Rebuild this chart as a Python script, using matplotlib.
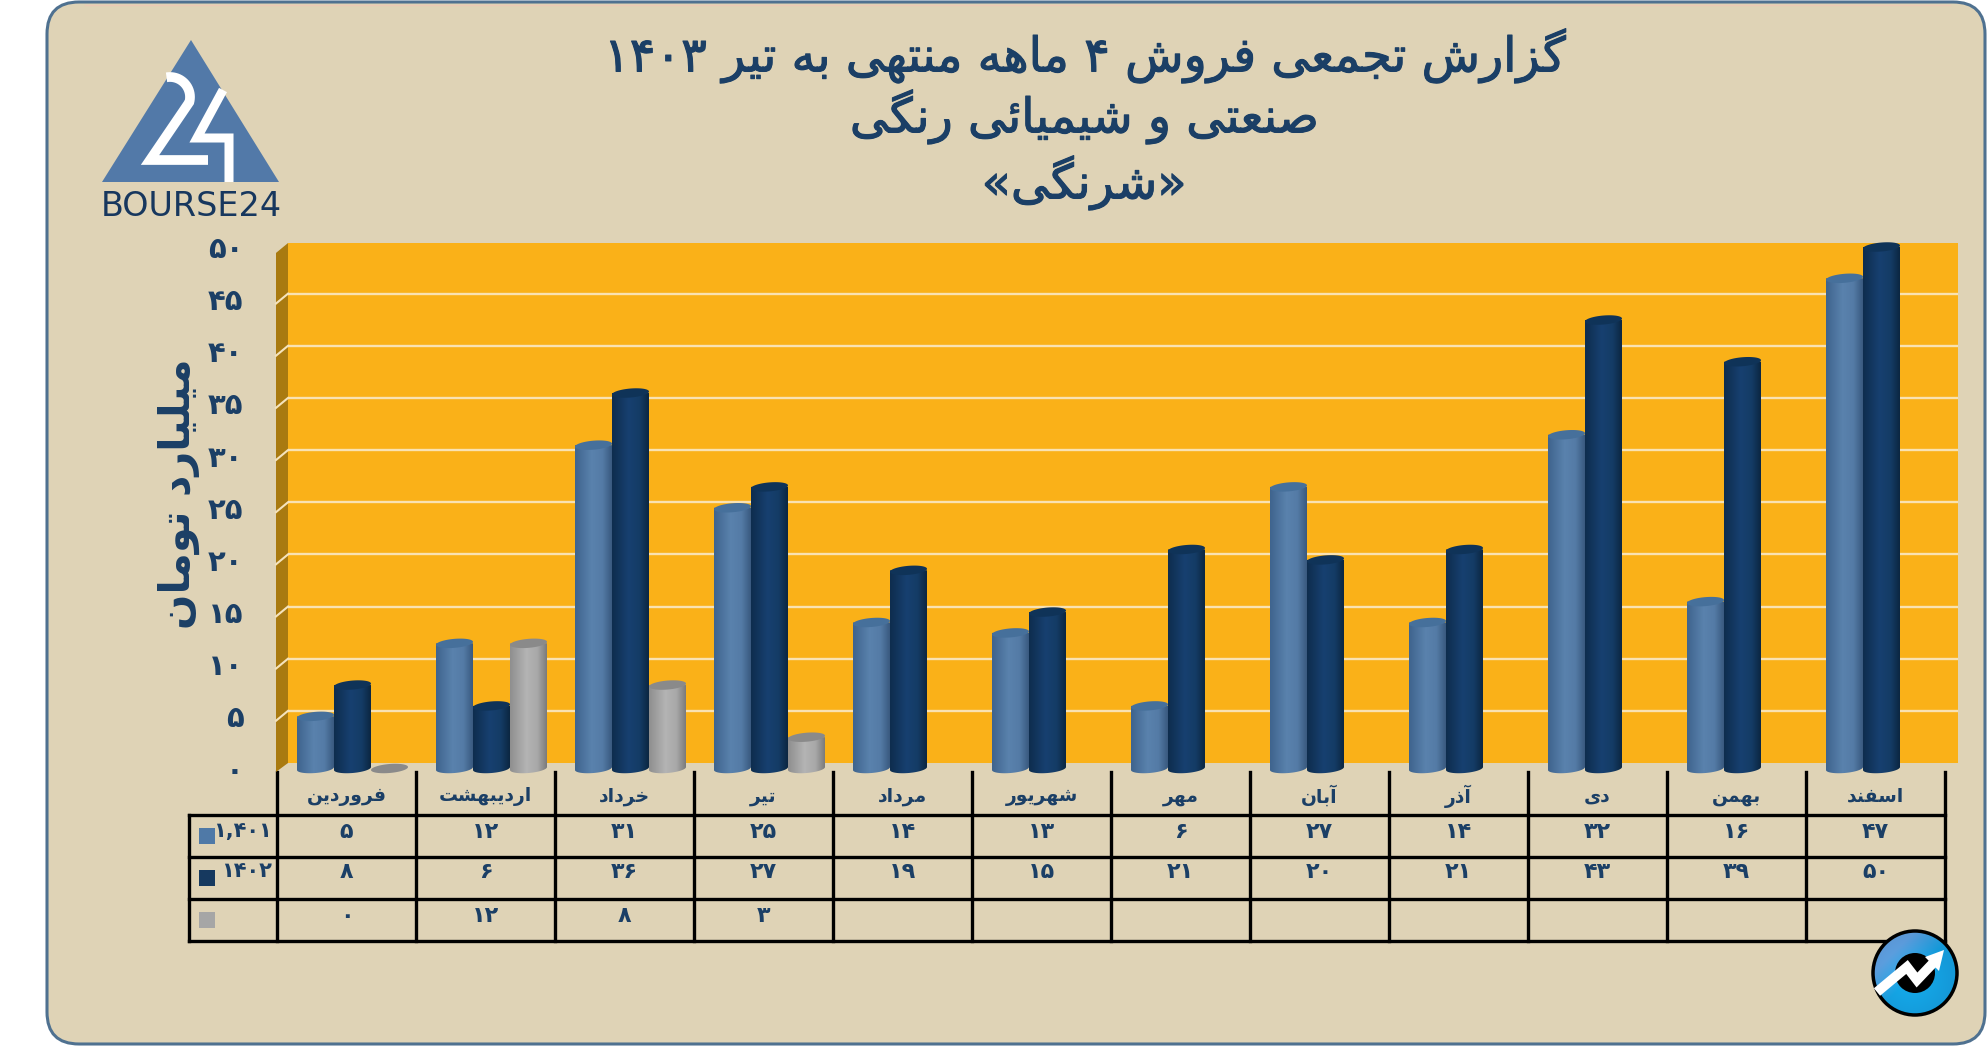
import re
import numpy as np
import matplotlib
matplotlib.use("Agg")
import matplotlib.pyplot as plt
import matplotlib.patheffects as pe
from matplotlib.path import Path
from matplotlib.patches import Circle, FancyBboxPatch, Polygon, Rectangle
from matplotlib.transforms import blended_transform_factory

plt.rcParams["font.family"] = ["DejaVu Sans"]

# Data
months = ["فروردین", "اردیبهشت", "خرداد", "تیر", "مرداد", "شهریور",
          "مهر", "آبان", "آذر", "دی", "بهمن", "اسفند"]
sales_1401 = [5, 12, 31, 25, 14, 13, 6, 27, 14, 32, 16, 47]
sales_1402 = [8, 6, 36, 27, 19, 15, 21, 20, 21, 43, 39, 50]
sales_1403 = [0, 12, 8, 3, None, None, None, None, None, None, None, None]
series_labels = ["۱,۴۰۱", "۱۴۰۲", ""]
y_ticks = list(range(0, 51, 5))
title_lines = ["گزارش تجمعی فروش ۴ ماهه منتهی به تیر ۱۴۰۳",
               "صنعتی و شیمیائی رنگی",
               "«شرنگی»"]
y_label = "میلیارد تومان"

NAVY = "#1b3f66"
PANEL = "#dfd3b6"
LIGHT_STOPS = ["#3f648e", "#5a82ad", "#547ba6", "#3a5a80"]
DARK_STOPS = ["#0e2d4e", "#174070", "#143c66", "#0c2742"]
GREY_STOPS = ["#8f8f8f", "#b4b4b4", "#a8a8a8", "#7c7c7c"]

# Presentation forms: isolated, final, initial, medial
FORMS = {
    "ا": (0xFE8D, 0xFE8E), "آ": (0xFE81, 0xFE82), "د": (0xFEA9, 0xFEAA),
    "ذ": (0xFEAB, 0xFEAC), "ر": (0xFEAD, 0xFEAE), "ز": (0xFEAF, 0xFEB0),
    "ژ": (0xFB8A, 0xFB8B), "و": (0xFEED, 0xFEEE),
    "ئ": (0xFE89, 0xFE8A, 0xFE8B, 0xFE8C), "ب": (0xFE8F, 0xFE90, 0xFE91, 0xFE92),
    "پ": (0xFB56, 0xFB57, 0xFB58, 0xFB59), "ت": (0xFE95, 0xFE96, 0xFE97, 0xFE98),
    "ج": (0xFE9D, 0xFE9E, 0xFE9F, 0xFEA0), "خ": (0xFEA5, 0xFEA6, 0xFEA7, 0xFEA8),
    "س": (0xFEB1, 0xFEB2, 0xFEB3, 0xFEB4), "ش": (0xFEB5, 0xFEB6, 0xFEB7, 0xFEB8),
    "ص": (0xFEB9, 0xFEBA, 0xFEBB, 0xFEBC), "ع": (0xFEC9, 0xFECA, 0xFECB, 0xFECC),
    "ف": (0xFED1, 0xFED2, 0xFED3, 0xFED4), "گ": (0xFB92, 0xFB93, 0xFB94, 0xFB95),
    "ل": (0xFEDD, 0xFEDE, 0xFEDF, 0xFEE0), "م": (0xFEE1, 0xFEE2, 0xFEE3, 0xFEE4),
    "ن": (0xFEE5, 0xFEE6, 0xFEE7, 0xFEE8), "ه": (0xFEE9, 0xFEEA, 0xFEEB, 0xFEEC),
    "ی": (0xFBFC, 0xFBFD, 0xFBFE, 0xFBFF),
}
MIRROR = {"«": "»", "»": "«"}


# matplotlib does no Arabic shaping, so pick the joined glyphs by hand
def shape(text):
    joined = []
    for i, ch in enumerate(text):
        if ch not in FORMS:
            joined.append(MIRROR.get(ch, ch))
            continue
        prev_ch = text[i - 1] if i > 0 else ""
        next_ch = text[i + 1] if i + 1 < len(text) else ""
        from_prev = prev_ch in FORMS and len(FORMS[prev_ch]) == 4
        to_next = next_ch in FORMS and len(FORMS[ch]) == 4
        if from_prev and to_next:
            code = FORMS[ch][3]
        elif to_next:
            code = FORMS[ch][2]
        elif from_prev:
            code = FORMS[ch][1]
        else:
            code = FORMS[ch][0]
        joined.append(chr(code))
    tokens = re.findall(r"[۰-۹,]+|.", "".join(joined))
    return "".join(reversed(tokens))


def fa_num(value):
    return str(value).translate(str.maketrans("0123456789", "۰۱۲۳۴۵۶۷۸۹"))


W, H = 1987, 1046
fig = plt.figure(figsize=(W / 100, H / 100), dpi=100, facecolor="white")

# Overlay in pixel coordinates for the panel, logo and table frame
bg = fig.add_axes([0, 0, 1, 1], zorder=0)
bg.set_xlim(0, W)
bg.set_ylim(H, 0)
bg.axis("off")

bg.add_patch(FancyBboxPatch((47, 2), 1938, 1042,
                            boxstyle="round,pad=0,rounding_size=32",
                            fc=PANEL, ec="#4f7190", lw=2.2))
bg.plot([85, 1950], [5, 5], color="#ecc9b5", lw=1)

# Main axes: x is months, y is billions of toman
X0, X1 = 277, 1945
Y_ZERO, Y_FIFTY = 768.5, 247
ax = fig.add_axes([X0 / W, 1 - Y_ZERO / H, (X1 - X0) / W, (Y_ZERO - Y_FIFTY) / H], zorder=2)
ax.patch.set_alpha(0)
for spine in ax.spines.values():
    spine.set_visible(False)

month_px = (X1 - X0) / 12
unit_px = (Y_ZERO - Y_FIFTY) / 50
back_dx = 11 / month_px
back_dy = 5.5 / unit_px
side_dx = -1 / month_px
wall_top = 50.38
wall_right = (1958 - X0) / month_px

# Back wall, side wall and grid lines
ax.add_patch(Rectangle((back_dx, back_dy), wall_right - back_dx, wall_top - back_dy,
                       fc="#fab118", ec="none", zorder=1, clip_on=False))
ax.add_patch(Polygon([(back_dx, back_dy), (back_dx, wall_top),
                      (side_dx, wall_top - 2 * back_dy * 0.9), (side_dx, -0.33)],
                     fc="#a97a10", ec="none", zorder=1, clip_on=False))
for tick in y_ticks[1:-1]:
    ax.plot([back_dx, wall_right], [tick + back_dy] * 2, color="#f9e2b2", lw=1.7,
            zorder=2, clip_on=False, solid_capstyle="butt")
    ax.plot([side_dx, back_dx], [tick - back_dy * 0.8, tick + back_dy], color="#f5e3bc",
            lw=1.5, zorder=2, clip_on=False)

# Cylinders
bar_w = 37 / month_px
bar_start = 20 / month_px
ry = 4.5 / unit_px
slant = 1.5 / unit_px
theta = np.linspace(0, 2 * np.pi, 80)


def cap_points(cx, level):
    return np.column_stack([cx + bar_w / 2 * np.cos(theta),
                            level + ry * np.sin(theta) + slant * np.cos(theta)])


def draw_cylinder(cx, value, stops, cap_color, order):
    if value > 0:
        lower = np.linspace(0, -np.pi, 40)
        bottom = np.column_stack([cx + bar_w / 2 * np.cos(lower),
                                  ry * np.sin(lower) + slant * np.cos(lower)])
        outline = np.vstack([[[cx + bar_w / 2, value]], bottom, [[cx - bar_w / 2, value]],
                             [[cx + bar_w / 2, value]]])
        pos = np.linspace(0, 1, 48)
        knots = [0, 0.45, 0.75, 1]
        rgb = np.array([matplotlib.colors.to_rgb(c) for c in stops])
        grad = np.stack([np.interp(pos, knots, rgb[:, k]) for k in range(3)], axis=-1)
        im = ax.imshow(grad[np.newaxis, :, :], aspect="auto", zorder=order,
                       extent=[cx - bar_w / 2, cx + bar_w / 2, -ry - slant, value],
                       interpolation="bilinear")
        im.set_clip_box(fig.bbox)
        im.set_clip_path(Path(outline), ax.transData)
    ax.add_patch(Polygon(cap_points(cx, value), fc=cap_color, ec="none",
                         zorder=order + 0.1, clip_on=False))


series_style = [(sales_1401, LIGHT_STOPS, "#46709b"),
                (sales_1402, DARK_STOPS, "#0f3358"),
                (sales_1403, GREY_STOPS, "#8a8a8a")]
for s, (values, stops, cap_color) in enumerate(series_style):
    for m, value in enumerate(values):
        if value is not None:
            draw_cylinder(m + bar_start + bar_w * (s + 0.5), value, stops, cap_color, 3 + s)

ax.set_xlim(0, 12)
ax.set_ylim(0, 50)
ax.set_xticks(np.arange(12) + 0.5, [shape(m) for m in months],
              fontsize=13.5, fontweight="bold", color=NAVY, va="center")
ax.set_yticks(y_ticks, [fa_num(t) for t in y_ticks], fontsize=21,
              fontweight="bold", color=NAVY)
ax.tick_params(axis="x", length=0, pad=20)
ax.tick_params(axis="y", length=0, pad=24)

# Data table below the chart
row_lines = [815, 857, 899, 941]
row_text_y = [832, 872, 916]
key_y = [828, 870, 912]
key_colors = ["#4f79a7", "#16395f", "#a6a6a6"]
for y in row_lines:
    bg.plot([189, X1], [y, y], color="black", lw=2.4, solid_capstyle="projecting")
bg.plot([189, 189], [row_lines[0], row_lines[-1]], color="black", lw=2.4)
for k in range(13):
    bg.plot([X0 + k * month_px] * 2, [772, row_lines[-1]], color="black", lw=2.4)

col_trans = blended_transform_factory(ax.transData, bg.transData)
for s, (values, _, _) in enumerate(series_style):
    bg.add_patch(Rectangle((199, key_y[s]), 16, 16, fc=key_colors[s], ec="none"))
    bg.text(272, row_text_y[s] - 1, series_labels[s], ha="right", va="center",
            fontsize=15, fontweight="bold", color=NAVY)
    for m, value in enumerate(values):
        if value is not None:
            ax.text(m + 0.5, row_text_y[s], fa_num(value), transform=col_trans, ha="center",
                    va="center", fontsize=16, fontweight="bold", color=NAVY, clip_on=False)

# Title and axis label
for line, y in zip(title_lines, [56, 117, 183]):
    bg.text(1084, y, shape(line), ha="center", va="center", fontsize=34.5, color=NAVY,
            path_effects=[pe.withStroke(linewidth=0.8, foreground=NAVY)])
bg.text(179, 494, shape(y_label), ha="center", va="center", rotation=90,
        fontsize=30, fontweight="bold", color=NAVY, zorder=5)

# BOURSE24 logo
bg.add_patch(Polygon([(191, 40), (102, 182), (279, 182)], fc="#5279a8", ec="none"))
t = np.radians(np.linspace(-100, 15, 24))
two_x = np.r_[170 + 20 * np.cos(t), 150, 208]
two_y = np.r_[97 + 20 * np.sin(t), 160, 160]
bg.plot(two_x, two_y, color="white", lw=7, solid_joinstyle="miter", solid_capstyle="butt")
bg.plot([223, 197, 229, 229], [90, 138, 138, 182], color="white", lw=6.5,
        solid_joinstyle="miter", solid_capstyle="butt")
bg.text(191, 207, "BOURSE24", ha="center", va="center", fontsize=24, color="#17375e")

# Round icon at bottom right
cx, cy, r = 1915, 973, 42
gy, gx = np.mgrid[-1:1:120j, -1:1:120j]
glow = np.clip(np.hypot(gx + 0.1, gy - 0.15), 0, 1)
light = np.clip(-gx - gy, 0, 1)
blue = np.stack([0.08 + 0.28 * light,
                 0.68 - 0.08 * glow,
                 0.93 - 0.08 * glow], axis=-1)
im = bg.imshow(blue, extent=[cx - r, cx + r, cy + r, cy - r], aspect="auto", zorder=4)
im.set_clip_path(Circle((cx, cy), r, transform=bg.transData))
bg.set_xlim(0, W)
bg.set_ylim(H, 0)
bg.add_patch(Circle((cx, cy), r, fc="none", ec="black", lw=2.5, zorder=5))
bg.add_patch(Circle((cx, cy), 20, fc="black", ec="none", zorder=5))
bg.plot([1877, 1907, 1917, 1936], [992, 967, 980, 960], color="white", lw=7, zorder=6,
        solid_joinstyle="miter", solid_capstyle="butt")
bg.add_patch(Polygon([(1944, 950), (1939, 971), (1925, 957)], fc="white", ec="none", zorder=6))

fig.savefig("out.png", dpi=100, facecolor="white")
